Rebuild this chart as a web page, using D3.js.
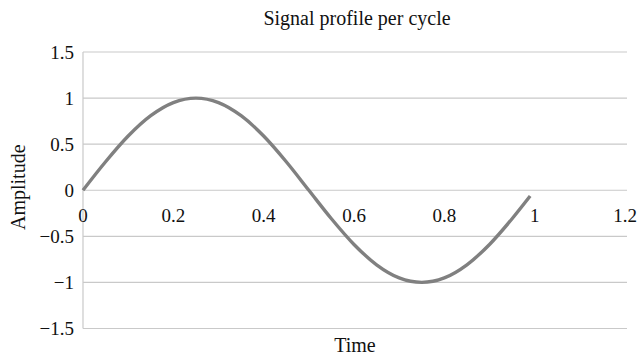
<!DOCTYPE html>
<html>
<head>
<meta charset="utf-8">
<script src="https://cdn.jsdelivr.net/npm/d3@7"></script>
<style>
  html, body { margin: 0; padding: 0; background: #fff; }
  svg text { font-family: "Liberation Serif", "DejaVu Serif", serif; fill: #111; }
</style>
</head>
<body>
<svg id="chart" width="641" height="358"></svg>
<script>
// Sampled signal over one cycle
const times = [0, 0.05, 0.1, 0.15, 0.2, 0.25, 0.3, 0.35, 0.4, 0.45, 0.5,
               0.55, 0.6, 0.65, 0.7, 0.75, 0.8, 0.85, 0.9, 0.95, 0.99];
const amplitudes = [0, 0.309, 0.588, 0.809, 0.951, 1, 0.951, 0.809, 0.588, 0.309, 0,
                    -0.309, -0.588, -0.809, -0.951, -1, -0.951, -0.809, -0.588, -0.309, -0.063];
const xTicks = [0, 0.2, 0.4, 0.6, 0.8, 1, 1.2];
const yTicks = [1.5, 1, 0.5, 0, -0.5, -1, -1.5];
const xTickLabels = ["0", "0.2", "0.4", "0.6", "0.8", "1", "1.2"];
const yTickLabels = ["1.5", "1", "0.5", "0", "\u22120.5", "\u22121", "\u22121.5"];

const svg = d3.select("#chart");
const x = d3.scaleLinear().domain([0, 1.2]).range([83, 625]);
const y = d3.scaleLinear().domain([-1.5, 1.5]).range([328.5, 52]);
const gridRight = 627;

// Horizontal gridlines
svg.append("g")
  .selectAll("line")
  .data(yTicks)
  .join("line")
  .attr("x1", x(0)).attr("x2", gridRight)
  .attr("y1", d => y(d)).attr("y2", d => y(d))
  .attr("stroke", "#c9c9c9").attr("stroke-width", 1.2);

// Vertical axis line
svg.append("line")
  .attr("x1", x(0)).attr("x2", x(0))
  .attr("y1", y(1.5)).attr("y2", y(-1.5))
  .attr("stroke", "#c9c9c9").attr("stroke-width", 1.2);

// Y tick labels
svg.append("g")
  .selectAll("text")
  .data(yTicks)
  .join("text")
  .attr("x", 74)
  .attr("y", d => y(d))
  .attr("dy", "0.35em")
  .attr("text-anchor", "end")
  .attr("font-size", 19)
  .text((d, i) => yTickLabels[i]);

// X tick labels, sitting just under the zero line
svg.append("g")
  .selectAll("text")
  .data(xTicks)
  .join("text")
  .attr("x", d => x(d))
  .attr("y", y(0) + 31.5)
  .attr("text-anchor", "middle")
  .attr("font-size", 19)
  .text((d, i) => xTickLabels[i]);

// Signal curve
const line = d3.line()
  .x((d, i) => x(times[i]))
  .y(d => y(d))
  .curve(d3.curveMonotoneX);

svg.append("path")
  .datum(amplitudes)
  .attr("d", line)
  .attr("fill", "none")
  .attr("stroke", "#808080")
  .attr("stroke-width", 3.4)
  .attr("stroke-linejoin", "round");

// Title and axis titles
svg.append("text")
  .attr("x", 357).attr("y", 25)
  .attr("text-anchor", "middle")
  .attr("font-size", 20)
  .text("Signal profile per cycle");

svg.append("text")
  .attr("x", 355).attr("y", 352)
  .attr("text-anchor", "middle")
  .attr("font-size", 20)
  .text("Time");

svg.append("text")
  .attr("transform", `translate(25, ${y(0) - 3}) rotate(-90)`)
  .attr("text-anchor", "middle")
  .attr("font-size", 20)
  .text("Amplitude");
</script>
</body>
</html>
